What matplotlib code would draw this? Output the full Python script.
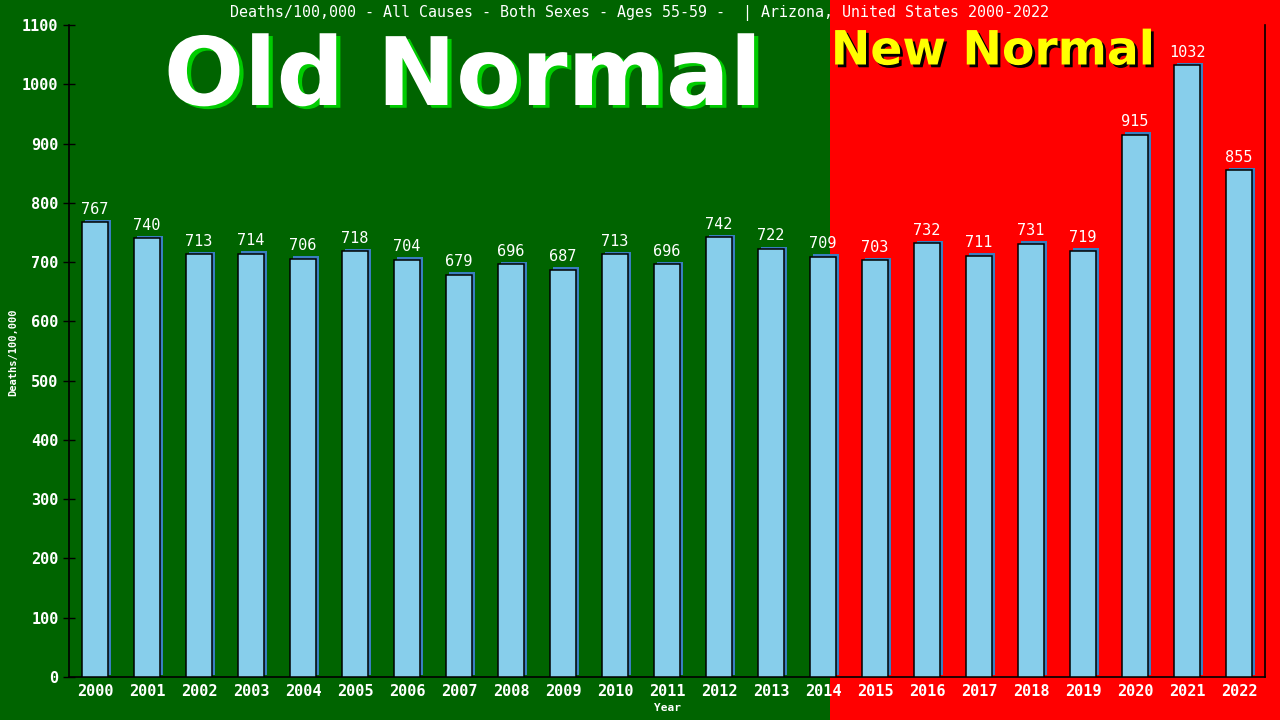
import matplotlib
matplotlib.use("Agg")
import matplotlib.pyplot as plt
import matplotlib.patheffects as pe
from matplotlib.patches import Rectangle

years = [str(y) for y in range(2000, 2023)]
values = [767, 740, 713, 714, 706, 718, 704, 679, 696, 687, 713, 696, 742,
          722, 709, 703, 732, 711, 731, 719, 915, 1032, 855]
title = "Deaths/100,000 - All Causes - Both Sexes - Ages 55-59 -  | Arizona, United States 2000-2022"

GREEN = "#006400"
RED = "#ff0000"
mono = "DejaVu Sans Mono"

fig = plt.figure(figsize=(12.8, 7.2), dpi=100)
fig.patches.append(Rectangle((0, 0), 830 / 1280, 1, transform=fig.transFigure,
                             facecolor=GREEN, edgecolor="none", zorder=-10))
fig.patches.append(Rectangle((830 / 1280, 0), 1 - 830 / 1280, 1, transform=fig.transFigure,
                             facecolor=RED, edgecolor="none", zorder=-10))

ax = fig.add_axes([69 / 1280, 43 / 720, (1265 - 69) / 1280, (677 - 25) / 720])
ax.set_facecolor("none")
x = list(range(len(years)))
bars = ax.bar(x, values, width=0.5, color="#87CEEB", edgecolor="black", linewidth=1.1, zorder=3)
for b in bars:
    b.set_path_effects([pe.SimplePatchShadow(offset=(1.8, 1.8), shadow_rgbFace="#3a7fc0", alpha=1.0),
                        pe.Normal()])
for xi, v in zip(x, values):
    ax.annotate(str(v), (xi, v), xytext=(0, 4), textcoords="offset points",
                ha="center", va="bottom", color="white", fontsize=11, family=mono, zorder=4)

ax.set_xlim(-0.5, 22.5)
ax.set_ylim(0, 1100)
ax.set_yticks(range(0, 1101, 100))
ax.set_xticks(x)
ax.set_xticklabels(years)
ax.tick_params(axis="y", direction="inout", length=8, width=1, color="black",
               labelcolor="white", labelsize=11)
ax.tick_params(axis="x", length=0, labelcolor="white", labelsize=11, pad=5)
for lab in ax.get_xticklabels() + ax.get_yticklabels():
    lab.set_family(mono)
    lab.set_fontweight("bold")
ax.spines["top"].set_visible(False)
for s in ["left", "bottom", "right"]:
    ax.spines[s].set_color("black")
    ax.spines[s].set_linewidth(1.2)
fig.text(13 / 1280, 1 - 352 / 720, "Deaths/100,000", rotation=90, ha="center", va="center",
         color="white", fontsize=7.5, family=mono, fontweight="bold")
ax.set_xlabel("Year", color="white", fontsize=8, family=mono, fontweight="bold", labelpad=3)

fig.text(640 / 1280, 1 - 13 / 720, title, ha="center", va="center", color="white", fontsize=10.8, family=mono)

fig.text(463 / 1280, 1 - 79 / 720, "Old Normal", ha="center", va="center", color="white",
         fontsize=68, fontweight="bold", family="DejaVu Sans",
         path_effects=[pe.withSimplePatchShadow(offset=(3, -2), shadow_rgbFace="#00cc00", alpha=1.0)])
fig.text(993 / 1280, 1 - 52 / 720, "New Normal", ha="center", va="center", color="yellow",
         fontsize=34, fontweight="bold", family="DejaVu Sans",
         path_effects=[pe.withSimplePatchShadow(offset=(2, -2), shadow_rgbFace="black", alpha=1.0)])

fig.savefig("out.png", dpi=100)
